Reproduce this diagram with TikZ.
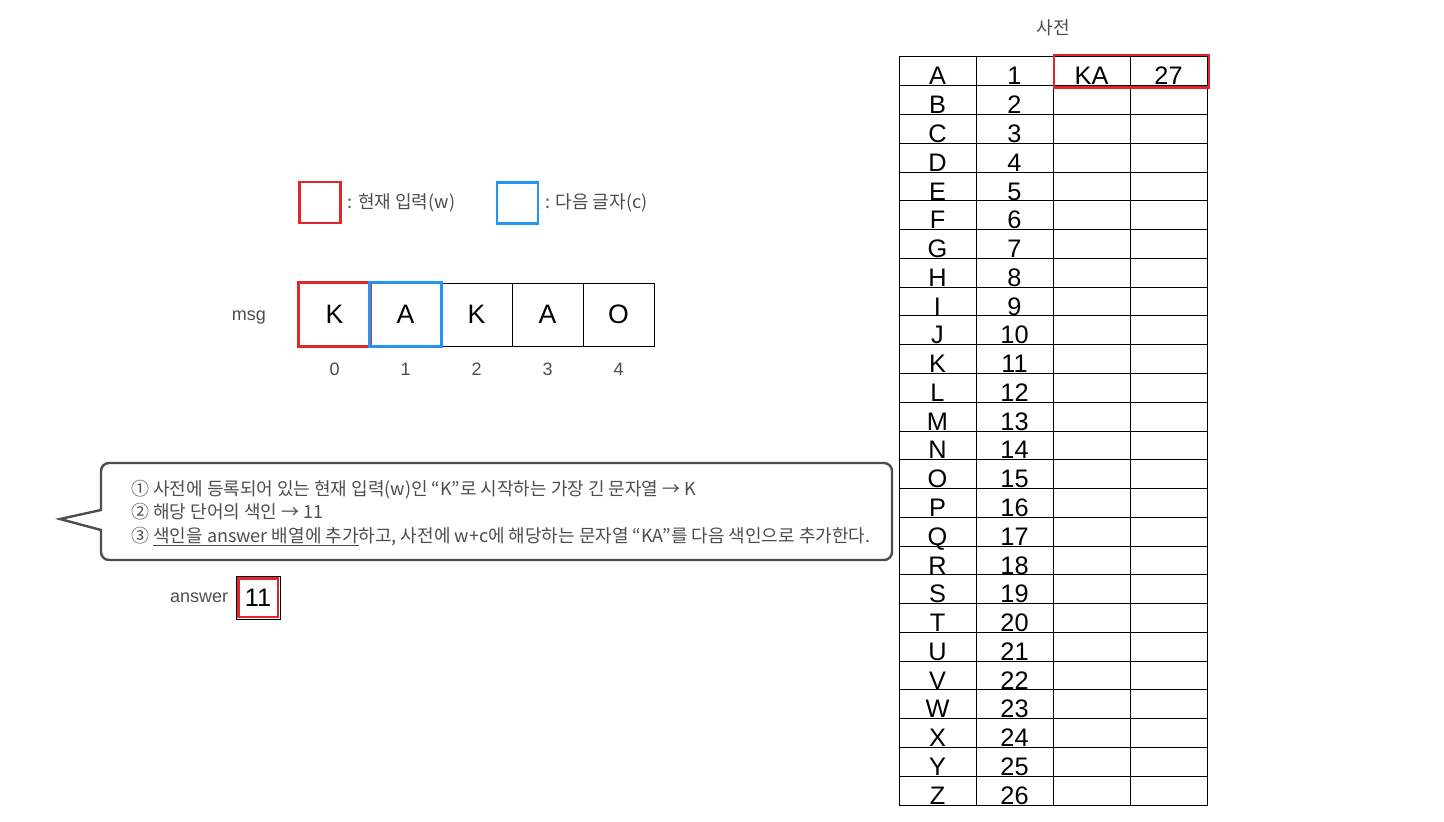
\documentclass[tikz,border=0pt]{standalone}
\usepackage{fontspec}
\setmainfont{Liberation Sans}
\newfontfamily\kr{Noto Sans CJK KR}
\usetikzlibrary{positioning}

\definecolor{wred}{HTML}{E3262B}
\definecolor{cblue}{HTML}{2196F3}
\definecolor{txtgray}{HTML}{4D4D4D}

\begin{document}
\begin{tikzpicture}[x=0.75pt, y=-0.75pt,
  cell/.style={draw, line width=0.75pt, minimum width=57.75pt, minimum height=21.58pt,
    inner sep=0pt, text height=20.3pt, text depth=0pt, font=\fontsize{19}{19}\selectfont},
  mcell/.style={draw, line width=0.75pt, minimum width=53.25pt, minimum height=47.25pt,
    inner sep=0pt, font=\fontsize{20}{20}\selectfont},
  lbl/.style={text=txtgray, font=\fontsize{13.5}{15}\selectfont},
  wbox/.style={draw=wred, line width=2pt},
  cbox/.style={draw=cblue, line width=2pt},
  callout/.style={draw=txtgray, line width=1.8pt}]

\useasboundingbox (0,0) rectangle (1444,821);

% Dictionary
\foreach \L [count=\i] in {A,...,Z} {
  \node[cell] (k\i) at (937.5, {57+28.77*(\i-0.5)}) {\L};
  \node[cell] (v\i) at (1014.5, {57+28.77*(\i-0.5)}) {\i};
  \node[cell] (e\i) at (1091.5, {57+28.77*(\i-0.5)}) {};
  \node[cell] (f\i) at (1168.5, {57+28.77*(\i-0.5)}) {};
}
\node[cell, draw=none] at (e1) {KA};
\node[cell, draw=none] at (f1) {27};
\draw[wbox] ([xshift=1pt,yshift=1pt]e1.north west) rectangle ([xshift=1pt,yshift=-1pt]f1.south east);
\node[lbl, above=12pt of v1.north east] (title) {\kr 사전};

% Legend
\node[wbox, minimum size=30.75pt] (lw) at (320, 202.5) {};
\node[lbl, right=1pt of lw] (lwt) {\kr : 현재 입력(w)};
\node[cbox, minimum size=30.75pt] (lc) at (517.5, 203) {};
\node[lbl, right=1pt of lc] (lct) {\kr : 다음 글자(c)};

% msg
\foreach \c [count=\i from 0] in {K,A,K,A,O} {
  \node[mcell] (m\i) at ({334.5+71*\i}, 314.5) {\c};
  \node[lbl, below=9pt of m\i] (n\i) {\i};
}
\node[lbl, left=21pt of m0, yshift=-2pt] (msg) {msg};
\draw[wbox] (m0.north west) rectangle (m0.south east);
\draw[cbox] (m1.north west) rectangle (m1.south east);

% Callout
\draw[callout] (101,510) [rounded corners=6pt] -- (101,463) -- (892,463) -- (892,560)
  -- (101,560) [sharp corners] -- (101,530) -- (60,519) -- cycle;
\node[anchor=west, align=left, text=txtgray, inner sep=0pt,
  font=\kr\fontsize{13.5}{17.6}\selectfont] (note) at (131, 513) {%
  ① 사전에 등록되어 있는 현재 입력(w)인 “K”로 시작하는 가장 긴 문자열 → K\\
  ② 해당 단어의 색인 → 11\\
  ③ \underline{색인을 answer 배열에 추가}하고, 사전에 w+c에 해당하는 문자열 “KA”를 다음 색인으로 추가한다.};

% answer
\node[draw, line width=0.75pt, minimum width=33pt, minimum height=32.25pt, inner sep=0pt,
  font=\fontsize{19}{19}\selectfont] (ans) at (258, 597.5) {11};
\draw[wbox] ([xshift=2pt,yshift=-2pt]ans.north west) rectangle ([xshift=-2pt,yshift=2pt]ans.south east);
\node[lbl, left=2pt of ans] (anst) {answer};

\end{tikzpicture}
\end{document}
